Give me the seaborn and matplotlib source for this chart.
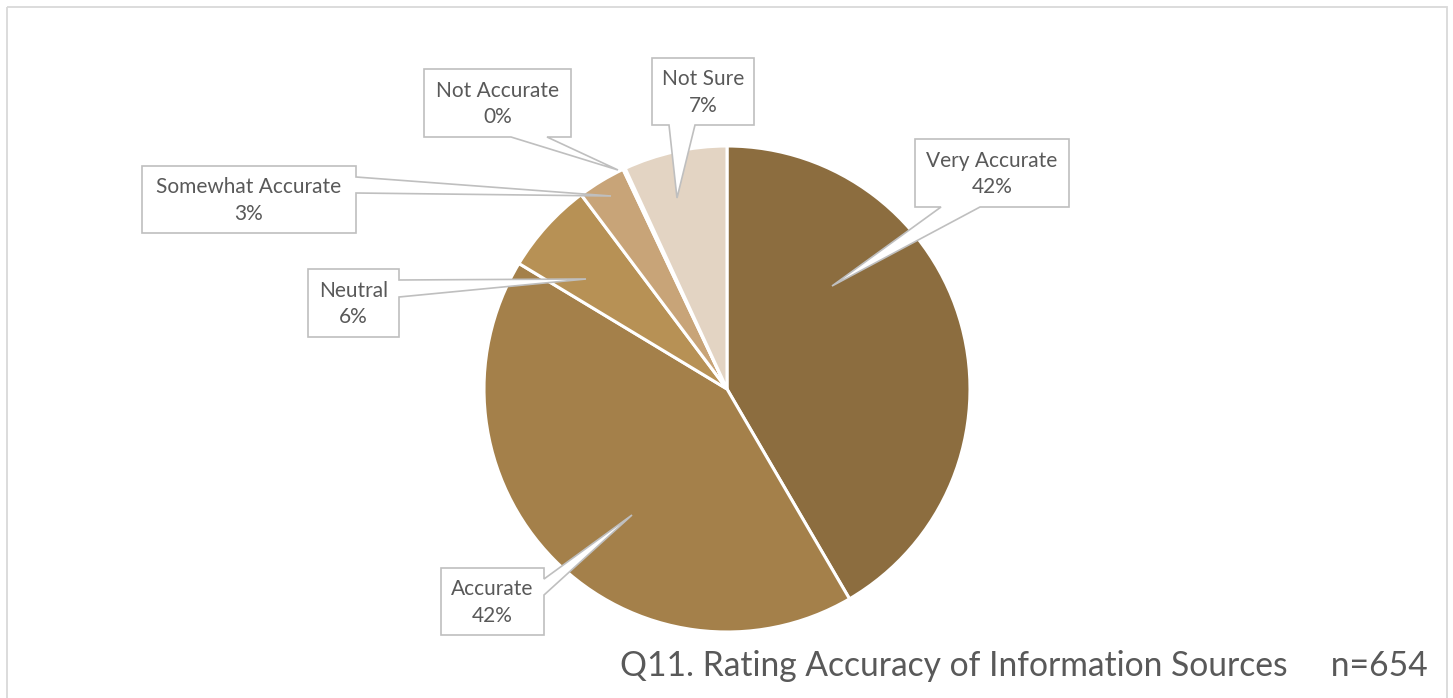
import matplotlib
matplotlib.use('Agg')

import matplotlib.pyplot as plt
import seaborn as sns
from matplotlib.patches import Polygon, Rectangle

# survey answers (n=654)
categories = ['Very Accurate', 'Accurate', 'Neutral', 'Somewhat Accurate', 'Not Accurate', 'Not Sure']
counts = [272, 275, 40, 21, 1, 45]
title = 'Q11. Rating Accuracy of Information Sources     n=654'

colors = ['#8C6D3F', '#A4804A', '#B79155', '#C8A478', '#D8C4A6', '#E3D4C3']

W, H = 1453, 698

sns.set_theme(style='white')
plt.rcParams['font.family'] = ['Lato', 'DejaVu Sans']

fig = plt.figure(figsize=(W / 100, H / 100), dpi=100)
ax = fig.add_axes([0, 0, 1, 1])

# y axis is flipped below, so counterclock in data = clockwise on screen
ax.pie(counts, colors=colors, startangle=-90, counterclock=True,
       center=(727, 389), radius=243,
       wedgeprops=dict(edgecolor='white', linewidth=2.2))

ax.set_xlim(0, W)
ax.set_ylim(H, 0)
ax.set_aspect('auto')
ax.axis('off')

# outer chart frame
ax.add_patch(Rectangle((6.5, 6.5), 1440, 720, fill=False, edgecolor='#D9D9D9', lw=1.3,
                       clip_on=False))


def callout(box, side, b1, b2, tip, text):
    x0, y0, x1, y1 = box
    if side == 'bottom':
        pts = [(x0, y0), (x1, y0), (x1, y1), (b2, y1), tip, (b1, y1), (x0, y1)]
    else:  # right
        pts = [(x0, y0), (x1, y0), (x1, b1), tip, (x1, b2), (x1, y1), (x0, y1)]
    ax.add_patch(Polygon(pts, closed=True, facecolor='white', edgecolor='#BFBFBF',
                         lw=1.2, joinstyle='miter', zorder=5))
    ax.text((x0 + x1) / 2, (y0 + y1) / 2 + 1, text, ha='center', va='center',
            fontsize=15, color='#595959', linespacing=1.4, zorder=6)


total = sum(counts)
pct = [f'{round(c / total * 100)}%' for c in counts]

callout((915, 139, 1069, 207), 'bottom', 941, 980, (832, 286), f'{categories[0]}\n{pct[0]}')
callout((441, 568, 544, 635), 'right', 579, 595, (632, 515), f'{categories[1]}\n{pct[1]}')
callout((308, 269, 399, 337), 'right', 280, 297, (586, 279), f'{categories[2]}\n{pct[2]}')
callout((142, 166, 356, 233), 'right', 177, 193, (611, 196), f'{categories[3]}\n{pct[3]}')
callout((424, 69, 571, 137), 'bottom', 511, 547, (618, 170), f'{categories[4]}\n{pct[4]}')
callout((652, 58, 754, 125), 'bottom', 669, 695, (677, 198), f'{categories[5]}\n{pct[5]}')

ax.text(1428, 666, title, ha='right', va='center', fontsize=24.2, color='#595959')

fig.savefig('out.png', dpi=100)
